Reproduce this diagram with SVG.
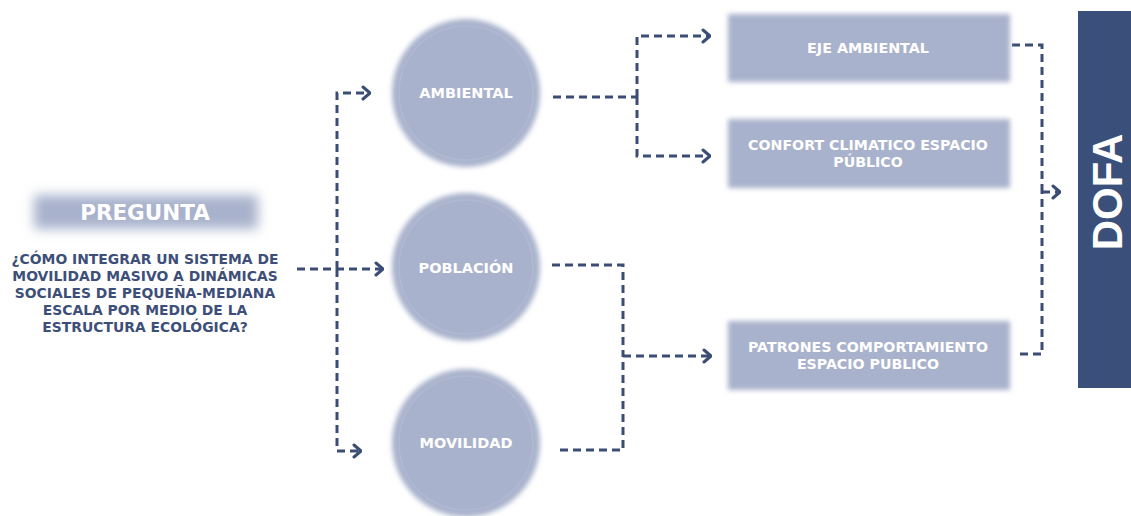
<svg xmlns="http://www.w3.org/2000/svg" width="1131" height="516" viewBox="0 0 1131 516">
<style>
.node{fill:#a9b2cc;}
.lbl{font-family:"DejaVu Sans","Liberation Sans",sans-serif;font-weight:bold;fill:#ffffff;text-anchor:middle;}
.q{font-family:"DejaVu Sans","Liberation Sans",sans-serif;font-weight:bold;fill:#3d4f78;font-size:13.9px;text-anchor:middle;}
.conn{fill:none;stroke:#3b4d75;stroke-width:3;stroke-dasharray:8 5;}
</style>
<defs>
<filter id="soft" x="-20%" y="-20%" width="140%" height="140%"><feGaussianBlur stdDeviation="2.8"/></filter>
<filter id="softer" x="-30%" y="-80%" width="160%" height="260%"><feGaussianBlur stdDeviation="6"/></filter>
<marker id="arr" viewBox="0 0 10 16" refX="9" refY="8" markerWidth="10" markerHeight="16" markerUnits="userSpaceOnUse" orient="auto">
<path d="M2,2 L9,8 L2,14" fill="none" stroke="#3b4d75" stroke-width="3" stroke-linecap="round" stroke-linejoin="round"/>
</marker>
</defs>
<rect width="1131" height="516" fill="#ffffff"/>

<g id="connectors">
<path class="conn" d="M297,269 H383" marker-end="url(#arr)"/>
<path class="conn" d="M337,269 V93 H370" marker-end="url(#arr)"/>
<path class="conn" d="M337,269 V451 H361" marker-end="url(#arr)"/>
<path class="conn" d="M553,97 H637"/>
<path class="conn" d="M637,97 V36 H710" marker-end="url(#arr)"/>
<path class="conn" d="M637,97 V156 H710" marker-end="url(#arr)"/>
<path class="conn" d="M552,265 H623 V356"/>
<path class="conn" d="M560,450 H623 V356"/>
<path class="conn" d="M623,356 H711" marker-end="url(#arr)"/>
<path class="conn" d="M1012,45 H1042 V192"/>
<path class="conn" d="M1020,354 H1042 V192"/>
<path class="conn" d="M1042,192 H1060" marker-end="url(#arr)"/>
</g>

<g id="pregunta">
<rect x="34" y="195" width="224" height="34" class="node" filter="url(#softer)"/>
<text class="lbl" x="145" y="220" font-size="21.5px">PREGUNTA</text>
<text class="q" x="145" y="264">¿CÓMO INTEGRAR UN SISTEMA DE</text>
<text class="q" x="145" y="281">MOVILIDAD MASIVO A DINÁMICAS</text>
<text class="q" x="145" y="298">SOCIALES DE PEQUEÑA-MEDIANA</text>
<text class="q" x="145" y="315">ESCALA POR MEDIO DE LA</text>
<text class="q" x="145" y="332">ESTRUCTURA ECOLÓGICA?</text>
</g>

<g id="ambiental">
<circle cx="466" cy="93" r="74" class="node" filter="url(#soft)"/>
<circle cx="466" cy="93" r="67" fill="none" stroke="#b1b9d1" stroke-width="1.5"/>
<text class="lbl" x="466" y="98" font-size="14.5px">AMBIENTAL</text>
</g>
<g id="poblacion">
<circle cx="466" cy="267" r="74" class="node" filter="url(#soft)"/>
<circle cx="466" cy="267" r="67" fill="none" stroke="#b1b9d1" stroke-width="1.5"/>
<text class="lbl" x="466" y="273" font-size="14.5px">POBLACIÓN</text>
</g>
<g id="movilidad">
<circle cx="466" cy="443" r="74" class="node" filter="url(#soft)"/>
<circle cx="466" cy="443" r="67" fill="none" stroke="#b1b9d1" stroke-width="1.5"/>
<text class="lbl" x="466" y="448" font-size="14.5px">MOVILIDAD</text>
</g>

<g id="eje-ambiental">
<rect x="728" y="14" width="282" height="68" class="node" filter="url(#soft)"/>
<text class="lbl" x="868" y="53" font-size="14.3px">EJE AMBIENTAL</text>
</g>
<g id="confort">
<rect x="728" y="119" width="282" height="69" class="node" filter="url(#soft)"/>
<text class="lbl" x="868" y="150" font-size="14.2px">CONFORT CLIMATICO ESPACIO</text>
<text class="lbl" x="868" y="167" font-size="14.2px">PÚBLICO</text>
</g>
<g id="patrones">
<rect x="728" y="321" width="282" height="69" class="node" filter="url(#soft)"/>
<text class="lbl" x="868" y="352" font-size="14.2px">PATRONES COMPORTAMIENTO</text>
<text class="lbl" x="868" y="369" font-size="14.2px">ESPACIO PUBLICO</text>
</g>

<g id="dofa">
<rect x="1078" y="11" width="60" height="377" fill="#3a4f7a"/>
<text x="0" y="0" transform="translate(1122,192) rotate(-90)" font-family="'Liberation Sans',Arial,sans-serif" font-weight="bold" font-size="42px" fill="#ffffff" text-anchor="middle">DOFA</text>
</g>
</svg>
